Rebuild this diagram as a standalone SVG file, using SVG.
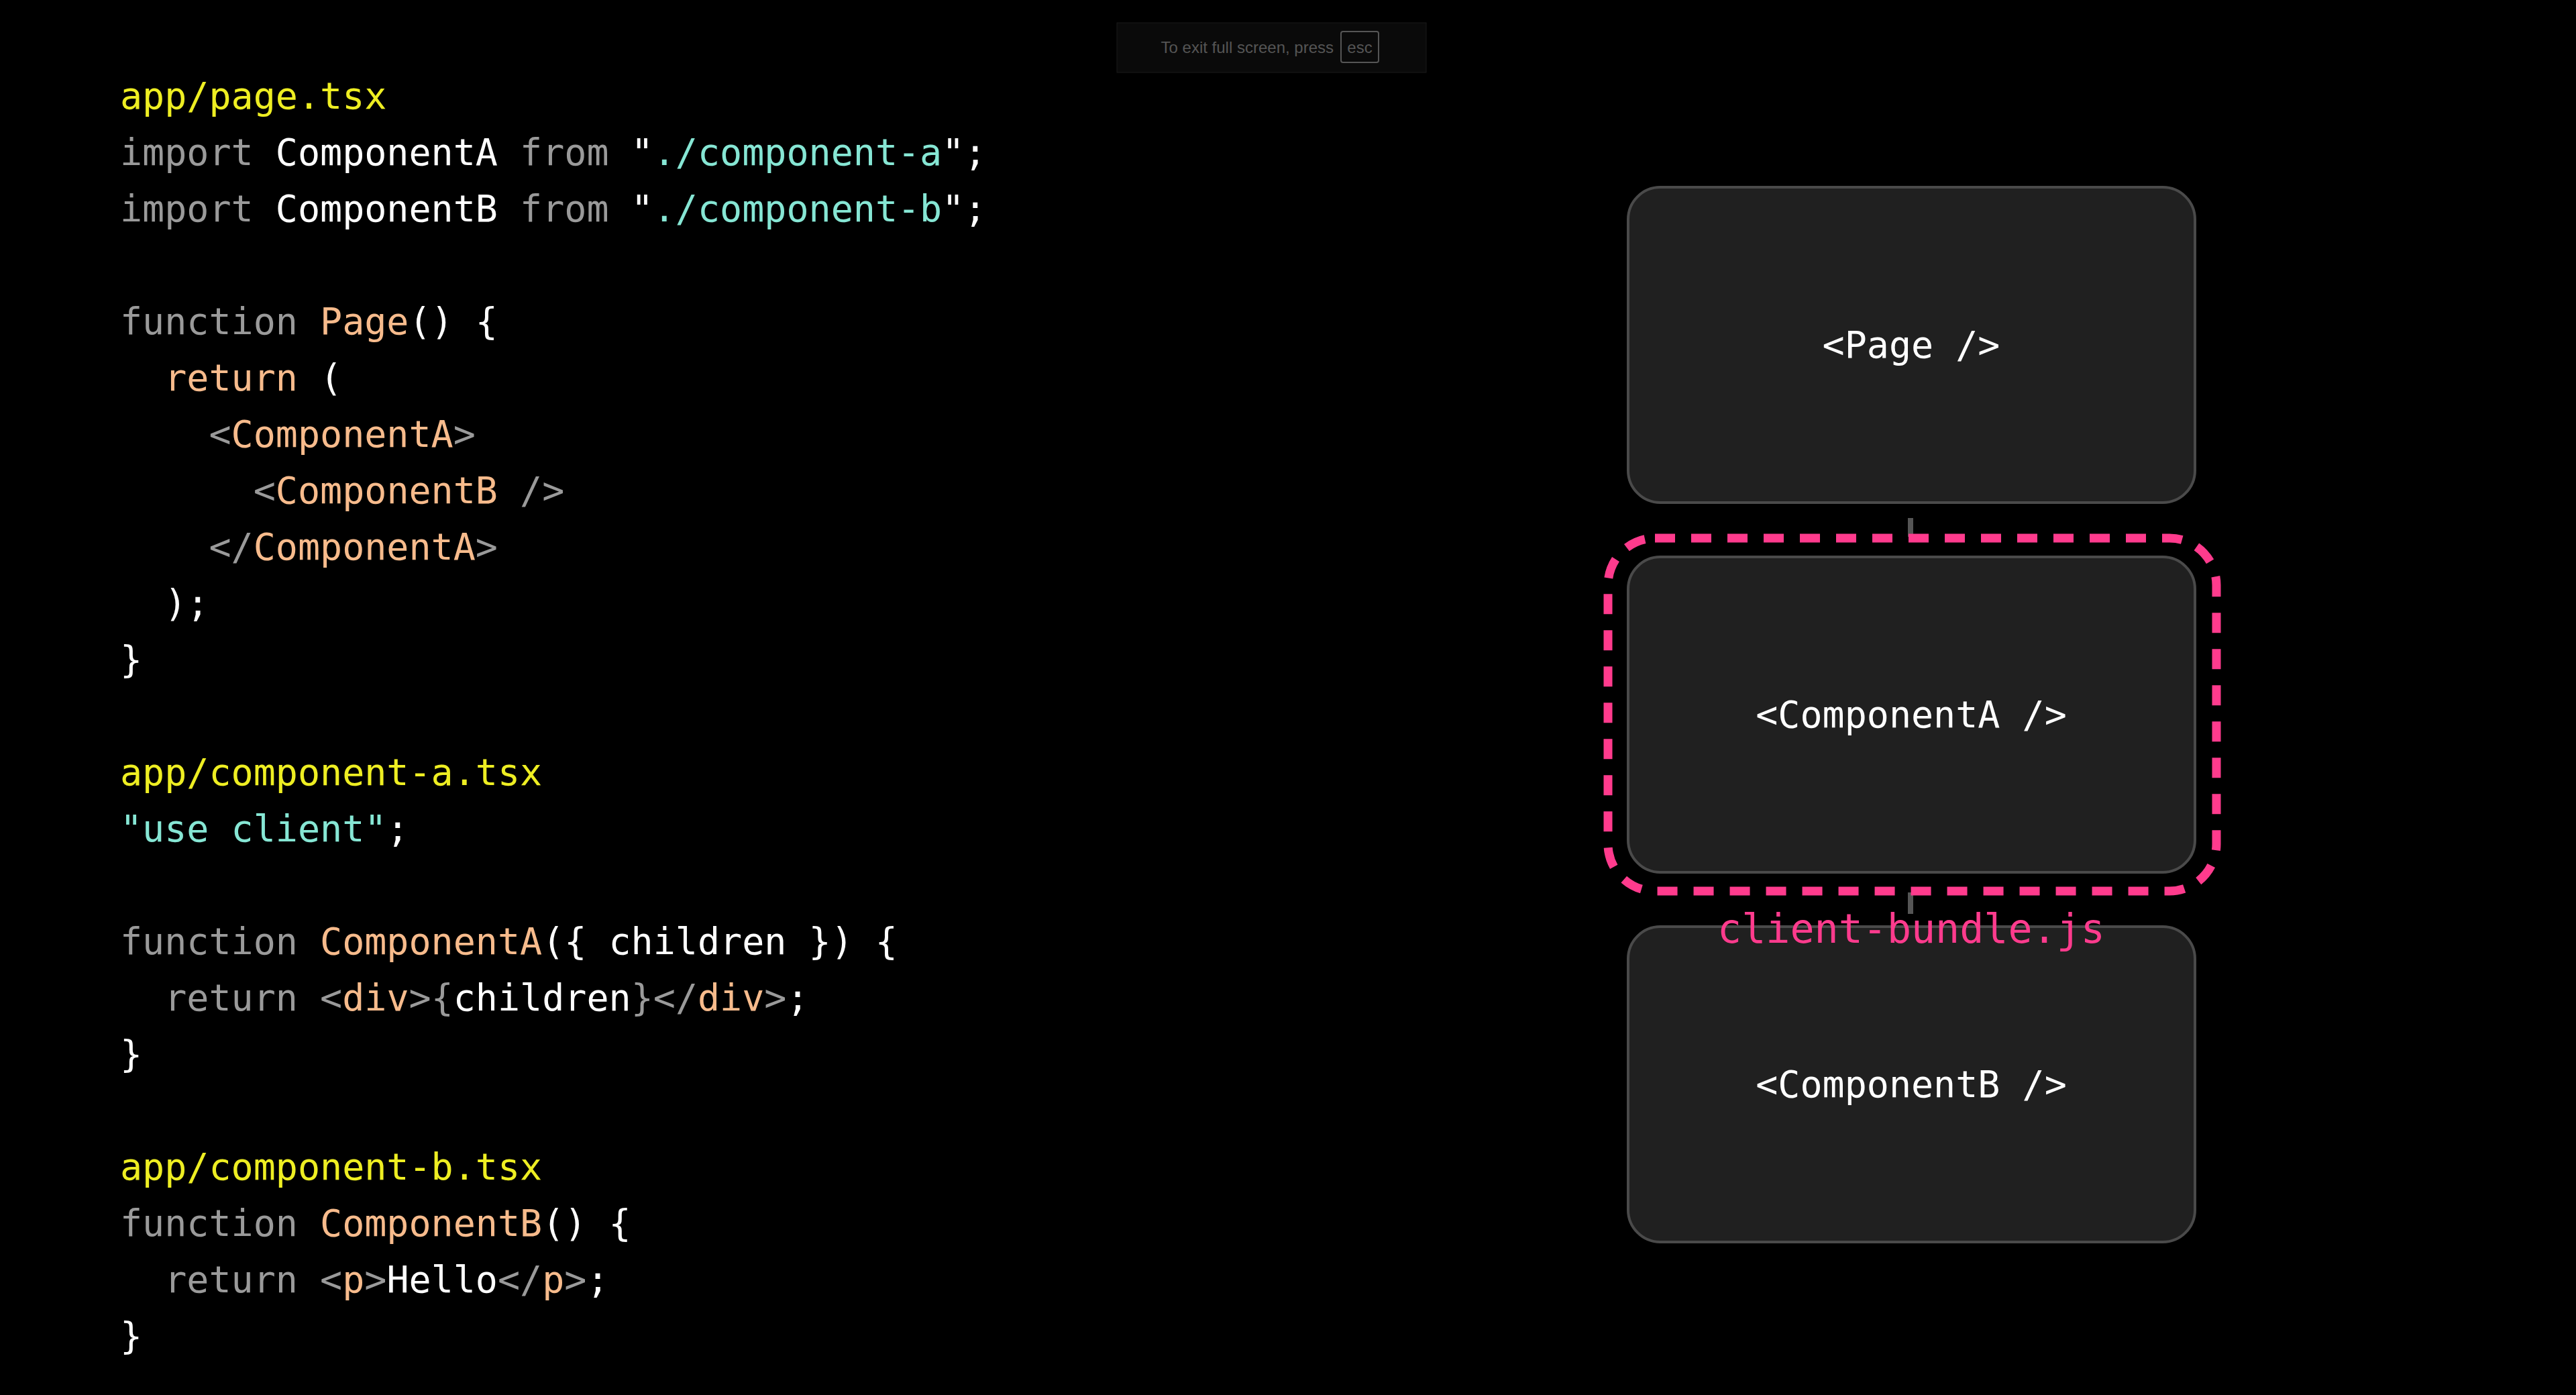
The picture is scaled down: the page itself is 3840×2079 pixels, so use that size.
<svg xmlns="http://www.w3.org/2000/svg" width="3840" height="2079" viewBox="0 0 3840 2079">
<style>
.c{font-family:"DejaVu Sans Mono","Liberation Mono",monospace;font-size:55px;fill:#ffffff;white-space:pre}
.y{fill:#eeee22}.g{fill:#9a9a9a}.w{fill:#ffffff}.p{fill:#f7bb8c}.t{fill:#86e6d4}
.box{fill:#202020;stroke:#4a4a4a;stroke-width:4}
.lbl{font-family:"DejaVu Sans Mono","Liberation Mono",monospace;font-size:55px;fill:#fff;text-anchor:middle}
</style>
<rect width="3840" height="2079" fill="#000"/>
<g id="toast">
<rect x="1665" y="34" width="461" height="74" fill="#0a0a0a" stroke="#1a1a1a" stroke-width="1"/>
<text x="1988" y="79" font-family="Liberation Sans,Arial,sans-serif" font-size="24" fill="#555" text-anchor="end">To exit full screen, press</text>
<rect x="1999" y="47" width="56" height="46" rx="3" fill="none" stroke="#555" stroke-width="2"/>
<text x="2027" y="79" font-family="Liberation Sans,Arial,sans-serif" font-size="24" fill="#555" text-anchor="middle">esc</text>
</g>
<g id="code" class="c">
<text x="179" y="162" class="c y">app/page.tsx</text>
<text x="179" y="246" class="c"><tspan class="g">import</tspan> ComponentA <tspan class="g">from</tspan> <tspan class="w">"</tspan><tspan class="t">./component-a</tspan><tspan class="w">";</tspan></text>
<text x="179" y="330" class="c"><tspan class="g">import</tspan> ComponentB <tspan class="g">from</tspan> <tspan class="w">"</tspan><tspan class="t">./component-b</tspan><tspan class="w">";</tspan></text>
<text x="179" y="498" class="c"><tspan class="g">function</tspan> <tspan class="p">Page</tspan>() {</text>
<text x="179" y="582" class="c">  <tspan class="p">return</tspan> (</text>
<text x="179" y="666" class="c">    <tspan class="g">&lt;</tspan><tspan class="p">ComponentA</tspan><tspan class="g">&gt;</tspan></text>
<text x="179" y="750" class="c">      <tspan class="g">&lt;</tspan><tspan class="p">ComponentB</tspan> <tspan class="g">/&gt;</tspan></text>
<text x="179" y="834" class="c">    <tspan class="g">&lt;/</tspan><tspan class="p">ComponentA</tspan><tspan class="g">&gt;</tspan></text>
<text x="179" y="918" class="c">  );</text>
<text x="179" y="1002" class="c">}</text>
<text x="179" y="1170" class="c y">app/component-a.tsx</text>
<text x="179" y="1254" class="c"><tspan class="t">"use client"</tspan>;</text>
<text x="179" y="1422" class="c"><tspan class="g">function</tspan> <tspan class="p">ComponentA</tspan>({ children }) {</text>
<text x="179" y="1506" class="c">  <tspan class="g">return</tspan> <tspan class="g">&lt;</tspan><tspan class="p">div</tspan><tspan class="g">&gt;{</tspan>children<tspan class="g">}&lt;/</tspan><tspan class="p">div</tspan><tspan class="g">&gt;</tspan>;</text>
<text x="179" y="1590" class="c">}</text>
<text x="179" y="1758" class="c y">app/component-b.tsx</text>
<text x="179" y="1842" class="c"><tspan class="g">function</tspan> <tspan class="p">ComponentB</tspan>() {</text>
<text x="179" y="1926" class="c">  <tspan class="g">return</tspan> <tspan class="g">&lt;</tspan><tspan class="p">p</tspan><tspan class="g">&gt;</tspan>Hello<tspan class="g">&lt;/</tspan><tspan class="p">p</tspan><tspan class="g">&gt;</tspan>;</text>
<text x="179" y="2010" class="c">}</text>
</g>
<g id="connectors" stroke="#555" stroke-width="8">
<line x1="2848" y1="772" x2="2848" y2="800"/>
<line x1="2848" y1="1330" x2="2848" y2="1362"/>
</g>
<g id="page"><rect class="box" x="2427" y="279" width="845" height="470" rx="48"/><text class="lbl" x="2849" y="533">&lt;Page /&gt;</text></g>
<g id="componentA"><rect class="box" x="2427" y="830" width="845" height="470" rx="48"/><text class="lbl" x="2849" y="1084">&lt;ComponentA /&gt;</text></g>
<g id="componentB"><rect class="box" x="2427" y="1381" width="845" height="470" rx="48"/><text class="lbl" x="2849" y="1635">&lt;ComponentB /&gt;</text></g>
<g id="client-bundle">
<rect x="2397" y="802" width="907" height="526" rx="70" fill="none" stroke="#ff3b8d" stroke-width="13" stroke-dasharray="30 24"/>
<text x="2849" y="1405" font-family="DejaVu Sans Mono,Liberation Mono,monospace" font-size="60" fill="#ff3b8d" text-anchor="middle">client-bundle.js</text>
</g>
</svg>
